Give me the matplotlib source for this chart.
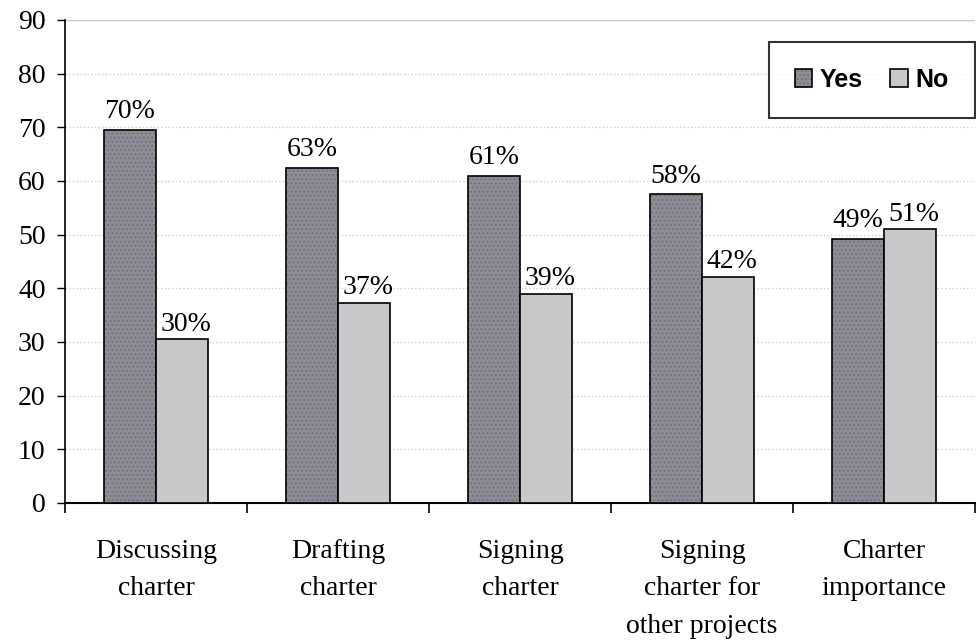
import matplotlib
matplotlib.use("Agg")
import matplotlib.pyplot as plt
import numpy as np

categories = ["Discussing\ncharter", "Drafting\ncharter", "Signing\ncharter",
              "Signing\ncharter for\nother projects", "Charter\nimportance"]
yes_vals = [69.5, 62.5, 61.0, 57.5, 49.2]
no_vals = [30.5, 37.3, 39.0, 42.2, 51.0]
yes_labels = ["70%", "63%", "61%", "58%", "49%"]
no_labels = ["30%", "37%", "39%", "42%", "51%"]

serif = "Liberation Serif"

fig = plt.figure(figsize=(9.76, 6.41), dpi=100)
ax = fig.add_axes([0.0666, 0.2153, 0.9324, 0.7535])

x = np.arange(len(categories))
w = 0.286
b1 = ax.bar(x - w / 2, yes_vals, w, color="#8e8e96", edgecolor="black", linewidth=1.2,
            hatch="....", label="Yes", zorder=3)
b2 = ax.bar(x + w / 2, no_vals, w, color="#c9c9cc", edgecolor="black", linewidth=1.2,
            label="No", zorder=3)
for b in b1:
    b._hatch_color = (0.45, 0.45, 0.5, 1.0)

for rect, lab in zip(b1, yes_labels):
    ax.annotate(lab, (rect.get_x() + rect.get_width() / 2, rect.get_height()),
                xytext=(0, 4), textcoords="offset points", ha="center", va="bottom",
                fontsize=20, family=serif)
for rect, lab in zip(b2, no_labels):
    ax.annotate(lab, (rect.get_x() + rect.get_width() / 2, rect.get_height()),
                xytext=(3, 2), textcoords="offset points", ha="center", va="bottom",
                fontsize=20, family=serif)

ax.set_xlim(-0.5, len(categories) - 0.5)
ax.set_ylim(0, 90)
ax.set_yticks(range(0, 91, 10))
ax.set_yticklabels([str(v) for v in range(0, 91, 10)], fontsize=20, family=serif)
ax.set_xticks(x)
ax.set_xticklabels(categories, fontsize=20, family=serif, linespacing=1.65)
ax.set_xticks(np.arange(-0.5, len(categories), 1.0), minor=True)
ax.tick_params(axis="x", which="major", length=0, pad=26)
ax.tick_params(axis="x", which="minor", length=7, width=1.2, direction="out")
ax.tick_params(axis="y", length=6, width=1.0, direction="out", pad=8)

ax.grid(axis="y", color="#cfcfcf", linestyle=":", linewidth=1.0, zorder=0)
for s in ["top", "right"]:
    ax.spines[s].set_visible(False)
ax.spines["left"].set_linewidth(1.2)
ax.spines["bottom"].set_linewidth(1.5)
ax.axhline(90, color="#c8c8c8", linewidth=1.0, zorder=0)

leg = ax.legend(loc="upper right", bbox_to_anchor=(1.0, 0.955), ncol=2, frameon=True,
                fancybox=False, prop={"family": "Liberation Sans", "weight": "bold", "size": 18},
                handlelength=0.7, handleheight=0.7, handletextpad=0.3, columnspacing=1.1,
                borderpad=1.05, borderaxespad=0)
leg.get_frame().set_edgecolor("black")
leg.get_frame().set_linewidth(1.5)

fig.savefig("out.png", dpi=100)
